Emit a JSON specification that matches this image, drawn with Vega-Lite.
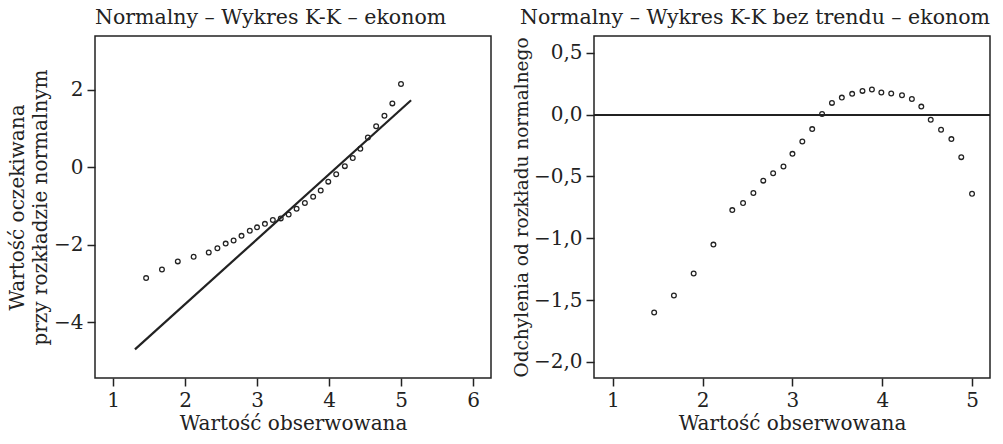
{
  "$schema": "https://vega.github.io/schema/vega-lite/v6.json",
  "padding": {"left": 6, "top": 6, "right": 5, "bottom": 4},
  "background": "white",
  "config": {
    "font": "DejaVu Serif",
    "view": {"stroke": "#222", "strokeWidth": 1.5},
    "axis": {
      "grid": false, "domain": false,
      "tickColor": "#222", "tickSize": 8, "tickWidth": 1.5,
      "labelFont": "DejaVu Serif", "labelFontSize": 20, "labelColor": "#222", "labelPadding": 4,
      "titleFont": "DejaVu Serif", "titleFontSize": 20, "titleFontWeight": "normal", "titleColor": "#222", "titleLineHeight": 23, "titlePadding": 3
    },
    "title": {"font": "DejaVu Serif", "fontSize": 20.5, "fontWeight": "normal", "color": "#222", "offset": 8, "frame": "group"}
  },
  "datasets": {
    "pts": [
      {"obs": 1.46, "exp": -2.86, "dev": -1.600},
      {"obs": 1.68, "exp": -2.64, "dev": -1.463},
      {"obs": 1.90, "exp": -2.43, "dev": -1.285},
      {"obs": 2.12, "exp": -2.31, "dev": -1.051},
      {"obs": 2.33, "exp": -2.20, "dev": -0.772},
      {"obs": 2.45, "exp": -2.09, "dev": -0.715},
      {"obs": 2.565, "exp": -1.97, "dev": -0.634},
      {"obs": 2.675, "exp": -1.89, "dev": -0.534},
      {"obs": 2.785, "exp": -1.77, "dev": -0.474},
      {"obs": 2.90, "exp": -1.64, "dev": -0.420},
      {"obs": 3.00, "exp": -1.55, "dev": -0.317},
      {"obs": 3.11, "exp": -1.46, "dev": -0.217},
      {"obs": 3.22, "exp": -1.36, "dev": -0.117},
      {"obs": 3.33, "exp": -1.32, "dev": 0.005},
      {"obs": 3.44, "exp": -1.22, "dev": 0.095},
      {"obs": 3.55, "exp": -1.07, "dev": 0.138},
      {"obs": 3.665, "exp": -0.92, "dev": 0.168},
      {"obs": 3.78, "exp": -0.76, "dev": 0.192},
      {"obs": 3.885, "exp": -0.60, "dev": 0.203},
      {"obs": 3.99, "exp": -0.37, "dev": 0.179},
      {"obs": 4.10, "exp": -0.18, "dev": 0.171},
      {"obs": 4.22, "exp": 0.03, "dev": 0.157},
      {"obs": 4.33, "exp": 0.24, "dev": 0.127},
      {"obs": 4.435, "exp": 0.48, "dev": 0.065},
      {"obs": 4.54, "exp": 0.77, "dev": -0.041},
      {"obs": 4.655, "exp": 1.06, "dev": -0.122},
      {"obs": 4.77, "exp": 1.33, "dev": -0.198},
      {"obs": 4.88, "exp": 1.65, "dev": -0.344},
      {"obs": 5.00, "exp": 2.15, "dev": -0.640}
    ],
    "line": [
      {"obs": 1.305, "exp": -4.70},
      {"obs": 5.14, "exp": 1.73}
    ]
  },
  "spacing": 19,
  "hconcat": [
    {
      "width": 396, "height": 342,
      "title": {"text": "Normalny – Wykres K-K – ekonom", "anchor": "start"},
      "layer": [
        {
          "data": {"name": "line"},
          "mark": {"type": "line", "color": "#222", "strokeWidth": 2.2},
          "encoding": {
            "x": {"field": "obs", "type": "quantitative", "scale": {"domain": [0.75, 6.25], "nice": false, "zero": false},
                  "axis": {"values": [1, 2, 3, 4, 5, 6], "format": "d", "title": "Wartość obserwowana"}},
            "y": {"field": "exp", "type": "quantitative", "scale": {"domain": [-5.44, 3.39], "nice": false, "zero": false},
                  "axis": {"values": [-4, -2, 0, 2], "format": "d", "title": ["Wartość oczekiwana", "przy rozkładzie normalnym"]}}
          }
        },
        {
          "data": {"name": "pts"},
          "mark": {"type": "point", "shape": "circle", "filled": false, "size": 22, "strokeWidth": 1.3, "color": "#222", "opacity": 1},
          "encoding": {
            "x": {"field": "obs", "type": "quantitative"},
            "y": {"field": "exp", "type": "quantitative"}
          }
        }
      ]
    },
    {
      "width": 396, "height": 342,
      "title": {"text": "Normalny – Wykres K-K bez trendu – ekonom", "anchor": "end"},
      "data": {"name": "pts"},
      "layer": [
        {
          "mark": {"type": "point", "shape": "circle", "filled": false, "size": 22, "strokeWidth": 1.3, "color": "#222", "opacity": 1},
          "encoding": {
            "x": {"field": "obs", "type": "quantitative", "scale": {"domain": [0.79, 5.2], "nice": false, "zero": false},
                  "axis": {"values": [1, 2, 3, 4, 5], "format": "d", "title": "Wartość obserwowana"}},
            "y": {"field": "dev", "type": "quantitative", "scale": {"domain": [-2.13, 0.636], "nice": false, "zero": false},
                  "axis": {"values": [-2, -1.5, -1, -0.5, 0, 0.5], "title": "Odchylenia od rozkładu normalnego", "titlePadding": 2, "titleFontSize": 18.5,
                           "labelExpr": "replace(format(datum.value, '.1f'), '.', ',')"}}
          }
        },
        {
          "mark": {"type": "rule", "color": "#222", "strokeWidth": 1.2},
          "encoding": {"y": {"datum": 0, "type": "quantitative"}}
        }
      ]
    }
  ]
}
